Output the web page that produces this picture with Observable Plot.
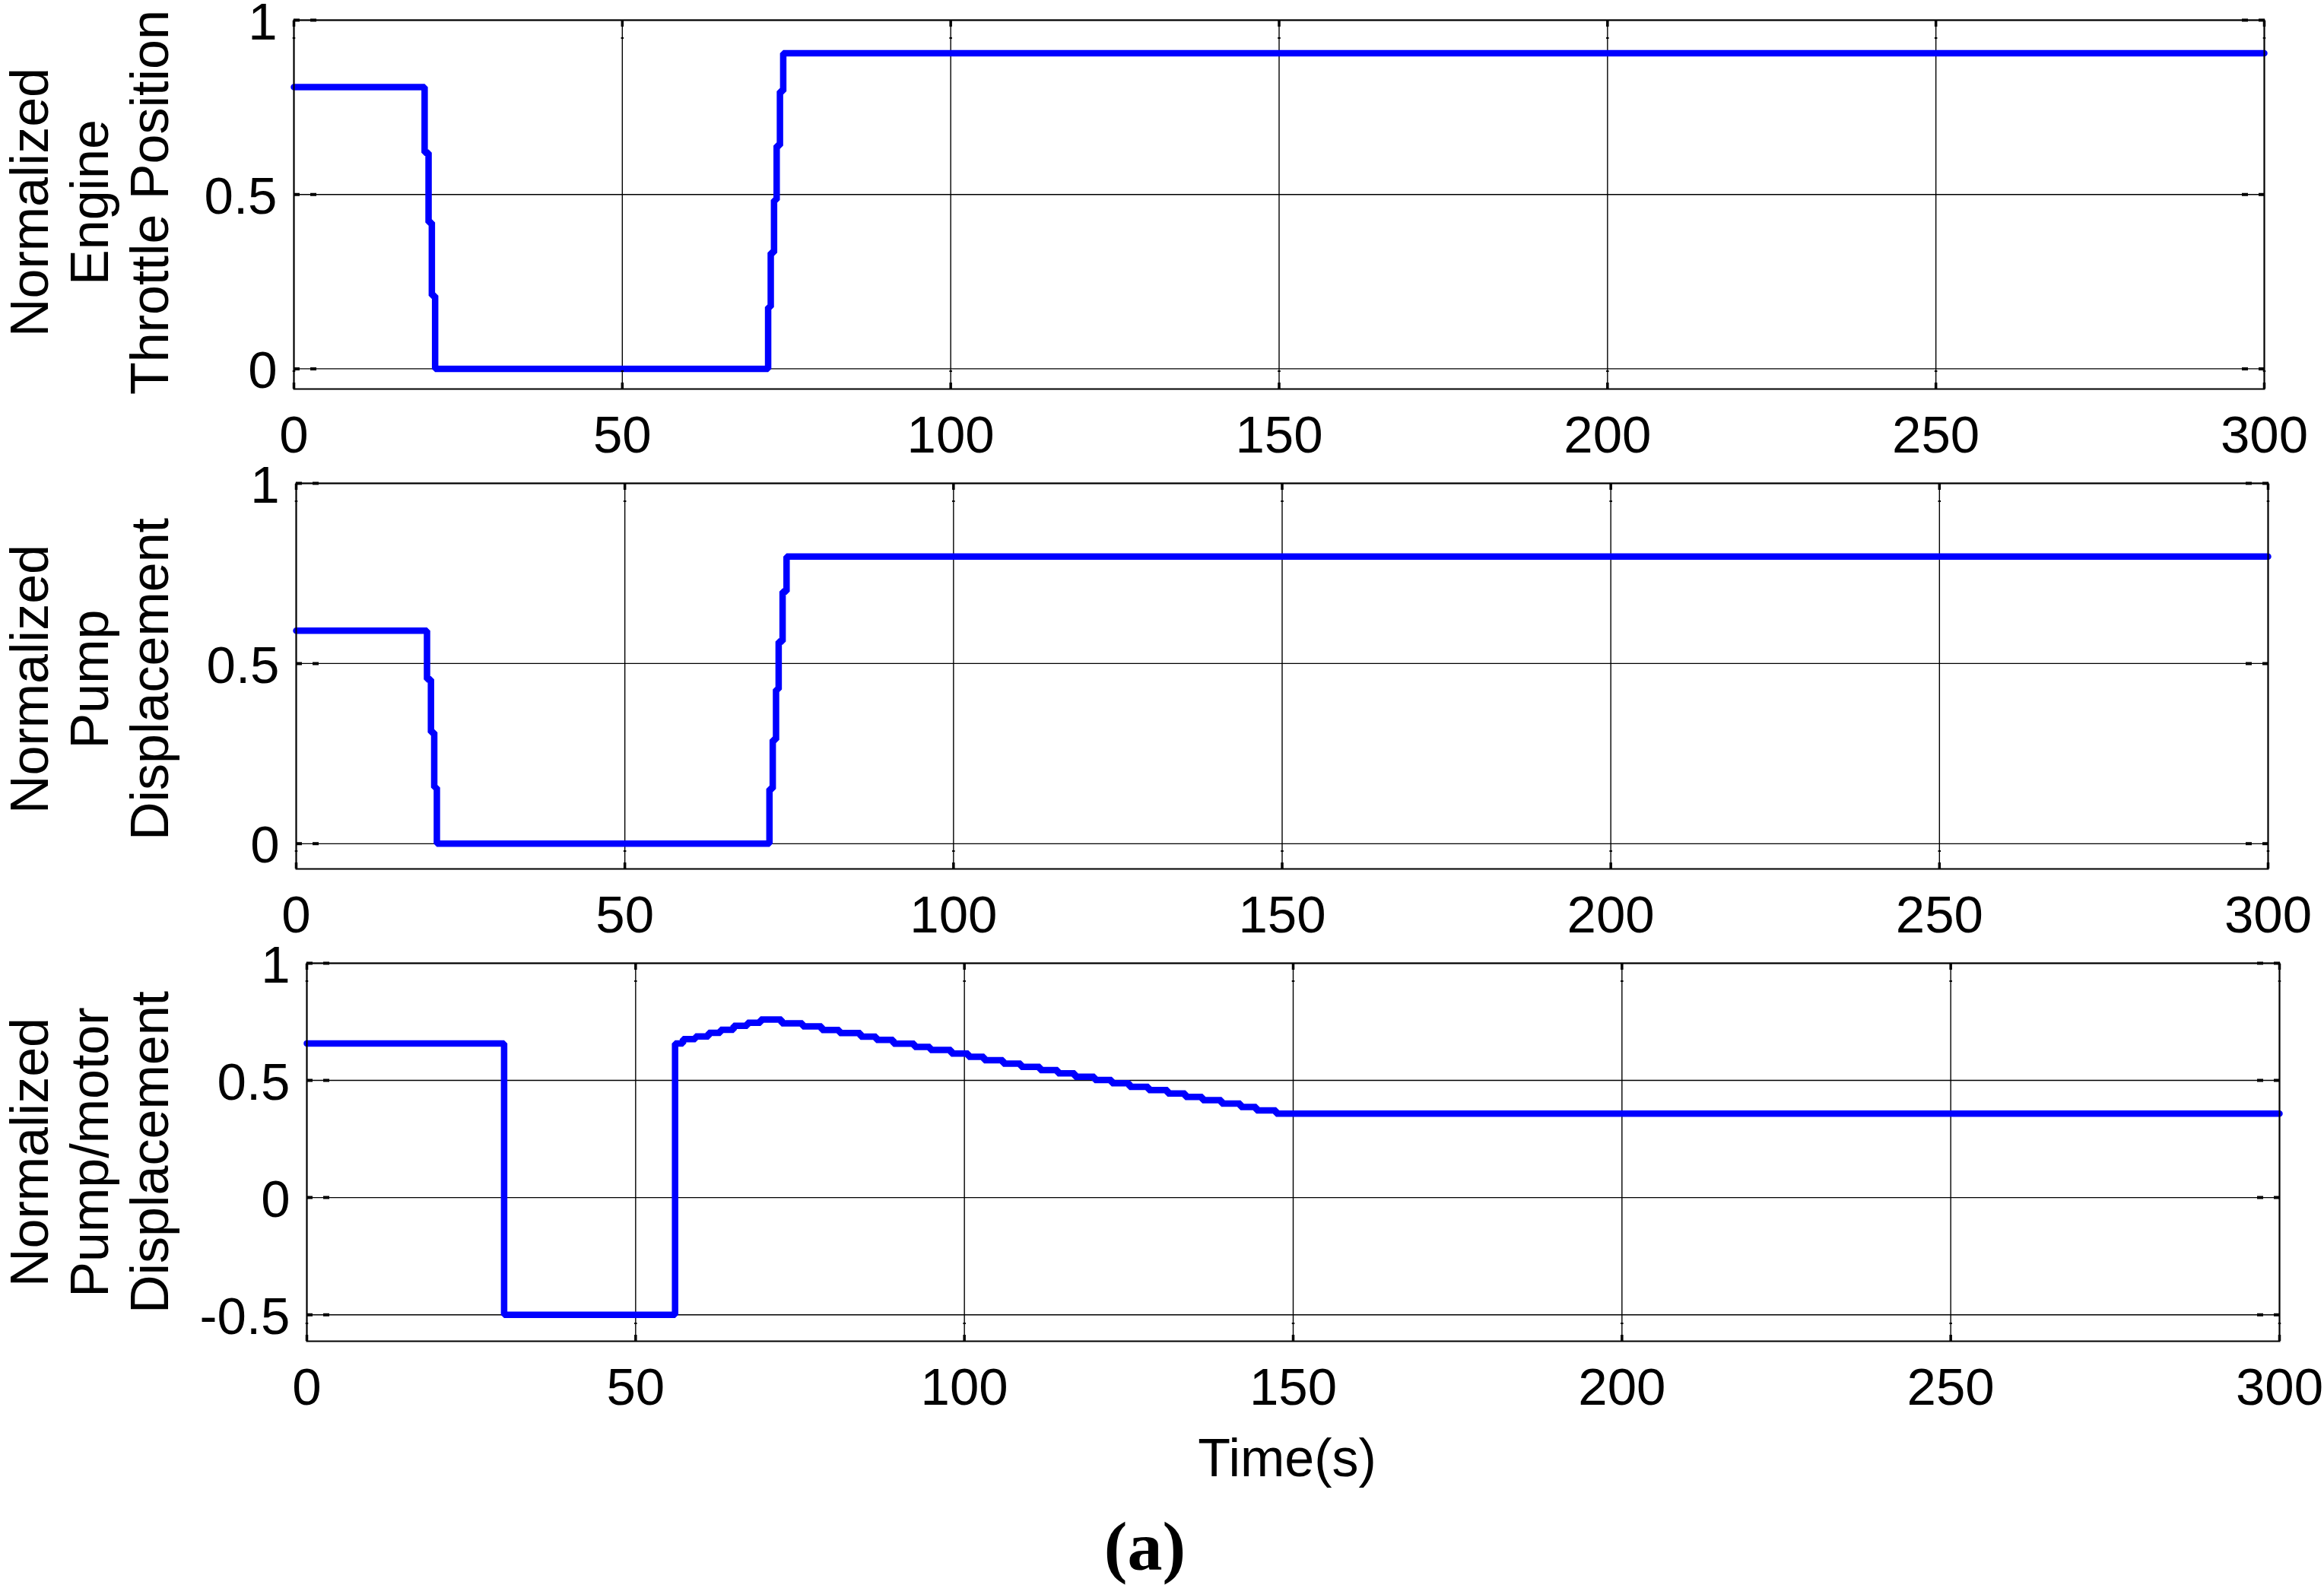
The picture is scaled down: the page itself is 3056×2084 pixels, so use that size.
<!DOCTYPE html>
<html>
<head>
<meta charset="utf-8">
<script src="https://cdn.jsdelivr.net/npm/d3@7"></script>
<script src="https://cdn.jsdelivr.net/npm/@observablehq/plot@0.6"></script>
<style>
  html, body { margin: 0; padding: 0; background: #fff; }
  #fig { position: relative; width: 3056px; height: 2084px; background: #fff; overflow: hidden; }
  #fig svg { position: absolute; left: 0; }
</style>
</head>
<body>
<div id="fig"></div>
<script>
// ---------- data ----------
const xTicks = [0, 50, 100, 150, 200, 250, 300];
const yTicksTop = [0, 0.5, 1];
const yTicksBottom = [-0.5, 0, 0.5, 1];

const throttleLabel = "Normalized\nEngine\nThrottle Position";
const pumpLabel = "Normalized\nPump\nDisplacement";
const motorLabel = "Normalized\nPump/motor\nDisplacement";
const xLabel = "Time(s)";
const caption = "(a)";

// Normalized engine throttle position (step-after samples)
const throttleTime  = [0, 19.9, 20.5, 21.0, 21.5, 72.2, 72.6, 73.1, 73.5, 74.0, 74.5, 300];
const throttleValue = [0.808, 0.62, 0.42, 0.21, 0, 0.177, 0.333, 0.484, 0.64, 0.796, 0.905, 0.905];

// Normalized pump displacement
const pumpTime  = [0, 19.9, 20.5, 21.0, 21.4, 72.0, 72.5, 73.0, 73.4, 74.0, 74.6, 300];
const pumpValue = [0.591, 0.456, 0.309, 0.156, 0, 0.152, 0.288, 0.428, 0.561, 0.700, 0.797, 0.797];

// Normalized pump/motor displacement
const motorTime  = [0, 30, 56, 57.2, 59.1, 61.1, 62.9, 64.9, 67.0, 69.0, 72.2, 75.4, 78.3, 81.0,
  84.2, 86.6, 89.2, 92.4, 94.8, 98.0, 100.6, 103.0, 105.9, 108.6, 111.5, 114.2, 116.8, 119.8,
  122.4, 125.1, 128.0, 130.9, 133.6, 136.2, 139.1, 142.0, 144.4, 147.4, 300];
const motorValue = [0.658, -0.5, 0.658, 0.676, 0.688, 0.703, 0.716, 0.733, 0.746, 0.760, 0.744, 0.731, 0.715, 0.702,
  0.687, 0.673, 0.657, 0.643, 0.630, 0.615, 0.601, 0.586, 0.572, 0.558, 0.544, 0.530, 0.516, 0.502,
  0.488, 0.473, 0.459, 0.444, 0.430, 0.416, 0.401, 0.387, 0.372, 0.358, 0.358];

const zip = (ts, vs) => ts.map((t, i) => ({t, v: vs[i]}));

// ---------- drawing ----------
const FONT = "'Liberation Sans', Arial, Helvetica, sans-serif";
const FS = 69;

function panel(cfg) {
  const data = zip(cfg.time, cfg.value);
  const tickStyle = {tickFormat: () => "", strokeWidth: 4, strokeDasharray: "8,14", label: null};
  const marks = [
    Plot.gridX(xTicks, {stroke: "black", strokeOpacity: 1, strokeWidth: 1.4}),
    Plot.gridY(cfg.yTicks, {stroke: "black", strokeOpacity: 1, strokeWidth: 1.4}),
    Plot.line(data, {x: "t", y: "v", curve: "step-after", stroke: "#0000ff", strokeWidth: 8.5, strokeLinejoin: "bevel"}),
    Plot.frame({stroke: "black", strokeWidth: 2}),
    Plot.axisY(cfg.yTicks, {anchor: "left", tickSize: -30, ...tickStyle}),
    Plot.axisY(cfg.yTicks, {anchor: "right", tickSize: -30, ...tickStyle}),
    Plot.axisX(xTicks, {anchor: "top", tickSize: -24, ...tickStyle, strokeWidth: 3.5}),
    Plot.axisX(xTicks, {anchor: "bottom", tickSize: -24, ...tickStyle, strokeWidth: 3.5}),
    Plot.axisY(cfg.yTicks, {anchor: "left", tickSize: 0, tickPadding: 22, dy: 3, fontSize: FS, tickFormat: d => String(d), label: null}),
    Plot.axisX(xTicks, {anchor: "bottom", tickSize: 0, tickPadding: 34, fontSize: FS, tickFormat: d => String(d), label: null}),
    Plot.text([cfg.label], {frameAnchor: "left", text: d => d, rotate: -90, dx: cfg.labelDx, dy: cfg.labelDy,
      fontSize: 70, lineHeight: 1.13, textAnchor: "middle", lineAnchor: "middle", fill: "black"})
  ];
  if (cfg.extra) marks.push(...cfg.extra);
  const svg = Plot.plot({
    width: 3056,
    height: cfg.height,
    marginLeft: cfg.ml, marginRight: cfg.mr, marginTop: cfg.mt, marginBottom: cfg.mb,
    style: {fontFamily: FONT, fontSize: FS + "px", background: "transparent", color: "black", overflow: "visible"},
    x: {domain: [0, 300]},
    y: {domain: cfg.yDomain},
    marks
  });
  svg.style.top = cfg.top + "px";
  document.getElementById("fig").appendChild(svg);
}

panel({time: throttleTime, value: throttleValue, yTicks: yTicksTop, yDomain: [-0.058, 1],
  label: throttleLabel, labelDx: -270, labelDy: -3,
  top: 0, height: 620, ml: 386, mr: 79, mt: 26, mb: 109});

panel({time: pumpTime, value: pumpValue, yTicks: yTicksTop, yDomain: [-0.07, 1],
  label: pumpLabel, labelDx: -273, labelDy: 4,
  top: 620, height: 620, ml: 389, mr: 74, mt: 15, mb: 98});

panel({time: motorTime, value: motorValue, yTicks: yTicksBottom, yDomain: [-0.613, 1],
  label: motorLabel, labelDx: -287, labelDy: 0,
  top: 1240, height: 844, ml: 403, mr: 59, mt: 26, mb: 321,
  extra: [
    Plot.text([xLabel], {frameAnchor: "bottom", text: d => d, dx: -8, dy: 155, fontSize: 70, lineAnchor: "middle", fill: "black"}),
    Plot.text([caption], {frameAnchor: "bottom", text: d => d, dx: -195, dy: 271, fontSize: 92, fontWeight: "bold",
      fontFamily: "'Liberation Serif', 'Times New Roman', serif", lineAnchor: "middle", fill: "black"})
  ]});
</script>
</body>
</html>
